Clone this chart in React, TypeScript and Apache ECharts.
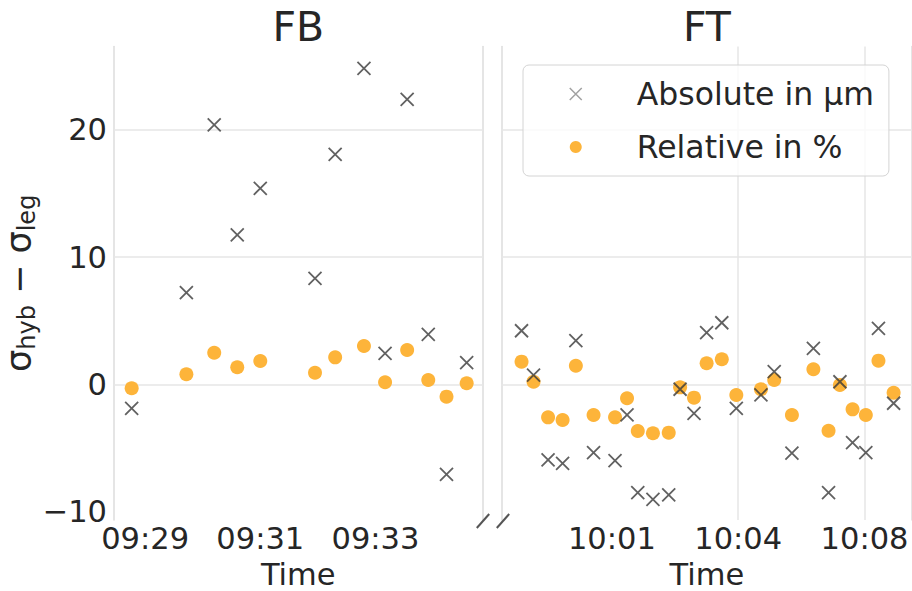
import React, { useEffect, useRef } from 'react';
import * as echarts from 'echarts';

// ---------------- data ----------------
const panelTitles = ['FB', 'FT'];
const seriesNames = ['Absolute in µm', 'Relative in %'];

const fbTimes = ['09:28:46', '09:29:43', '09:30:12', '09:30:36', '09:31:00', '09:31:57', '09:32:18', '09:32:48', '09:33:10', '09:33:33', '09:33:55', '09:34:14', '09:34:35'];
const fbAbsolute = [-1.89, 7.2, 20.39, 11.74, 15.41, 8.33, 18.08, 24.84, 2.44, 22.41, 3.92, -7.08, 1.7];
const fbRelative = [-0.31, 0.79, 2.48, 1.34, 1.83, 0.91, 2.12, 3.01, 0.16, 2.7, 0.34, -0.97, 0.08];

const ftTimes = ['09:58:57', '09:59:16', '09:59:39', '10:00:02', '10:00:23', '10:00:51', '10:01:25', '10:01:44', '10:02:01', '10:02:25', '10:02:50', '10:03:08', '10:03:30', '10:03:50', '10:04:14', '10:04:37', '10:05:16', '10:05:37', '10:06:05', '10:06:39', '10:07:03', '10:07:21', '10:07:41', '10:08:02', '10:08:22', '10:08:46'];
const ftAbsolute = [4.21, 0.73, -5.95, -6.21, 3.43, -5.38, -6.0, -2.41, -8.52, -9.04, -8.7, -0.39, -2.28, 4.06, 4.84, -1.89, -0.84, 0.99, -5.42, 2.83, -8.52, 0.2, -4.59, -5.38, 4.4, -1.49];
const ftRelative = [1.78, 0.2, -2.6, -2.81, 1.46, -2.41, -2.6, -1.1, -3.67, -3.85, -3.8, -0.24, -1.05, 1.65, 1.97, -0.84, -0.39, 0.34, -2.41, 1.18, -3.65, -0.06, -1.97, -2.41, 1.86, -0.66];

const fbTicks = ['09:29:00', '09:31:00', '09:33:00'];
const ftTicks = ['10:01:20', '10:04:40', '10:08:00'];
const ftVerticalGrid = ['10:04:40', '10:08:00'];
const fbRange = ['09:28:27.6', '09:34:51.5'];
const ftRange = ['09:58:25.6', '10:09:15.1'];
const yTicks = [-10, 0, 10, 20];
const yGrid = [0, 10, 20];
const yRange = [-10.67, 26.56];

// ---------------- helpers ----------------
const FONT = '"DejaVu Sans", "Liberation Sans", sans-serif';
const TEXT = '#262626';
const GRID = '#e6e6e6';
const SPINE = '#dcdcdc';
const ORANGE = '#FDB43A';
const CROSS = '#3a3a3a';
const CROSS_PATH = 'path://M0,0L10,10M10,0L0,10';

const toSec = (s: string) => {
  const p = s.split(':').map(Number);
  return p[0] * 3600 + p[1] * 60 + (p[2] || 0);
};
const pad = (n: number) => (n < 10 ? '0' + n : '' + n);
const fmtTime = (v: number) => {
  const h = Math.floor(v / 3600);
  const m = Math.floor((v - h * 3600) / 60);
  return pad(h) + ':' + pad(m);
};
const fmtNum = (v: number) => (v < 0 ? '\u2212' + Math.abs(v) : String(v));

export default function App() {
  const ref = useRef<HTMLDivElement>(null);

  useEffect(() => {
    if (!ref.current) return;
    const chart = echarts.init(ref.current, null, { renderer: 'svg' });

    const grids = [
      { left: 114, top: 46.5, width: 368.5, height: 473.5, outerBoundsMode: 'none', containLabel: false },
      { left: 501.7, top: 46.5, width: 410.3, height: 473.5, outerBoundsMode: 'none', containLabel: false },
    ];

    const yBase = (gridIndex: number, position: string) => ({
      type: 'value',
      gridIndex,
      position,
      min: yRange[0],
      max: yRange[1],
      axisLine: { show: true, onZero: false, lineStyle: { color: SPINE, width: 1.5 } },
      axisTick: { show: false },
      splitLine: { show: false },
      axisLabel: { show: false },
    });

    const xAxis = (gridIndex: number, range: string[], ticks: string[]) => ({
      type: 'value',
      gridIndex,
      min: toSec(range[0]),
      max: toSec(range[1]),
      axisLine: { show: false, onZero: false },
      axisTick: { show: false },
      splitLine: { show: false },
      axisLabel: {
        customValues: ticks.map(toSec),
        formatter: (v: number) => fmtTime(v),
        fontSize: 30.5,
        fontFamily: FONT,
        color: TEXT,
        margin: 3,
      },
      name: 'Time',
      nameLocation: 'middle',
      nameGap: 37,
      nameTextStyle: { fontSize: 30.5, fontFamily: FONT, color: TEXT },
    });

    const gridMarkLine = (extra: any[]) => ({
      silent: true,
      symbol: 'none',
      z: 1,
      label: { show: false },
      emphasis: { disabled: true },
      lineStyle: { color: GRID, width: 1.5, type: 'solid' },
      data: [...yGrid.map((v) => ({ yAxis: v })), ...extra],
    });

    const dotStyle = { color: ORANGE, opacity: 1 };
    const crossStyle = { color: 'transparent', borderColor: CROSS, borderWidth: 1.8 };

    const option: any = {
      animation: false,
      backgroundColor: '#ffffff',
      title: panelTitles.map((t, i) => ({
        text: t,
        left: grids[i].left + grids[i].width / 2,
        top: 6,
        textAlign: 'center',
        padding: 0,
        textStyle: { fontSize: 41, fontWeight: 'normal', fontFamily: FONT, color: TEXT },
      })),
      grid: grids,
      legend: {
        data: [
          {
            name: seriesNames[0],
            itemStyle: { color: 'transparent', borderColor: '#8a8a8a', borderWidth: 1.5 },
          },
          { name: seriesNames[1], itemStyle: { color: ORANGE } },
        ],
        orient: 'vertical',
        left: 523,
        top: 65,
        padding: [13, 15, 13, 46],
        itemWidth: 30,
        itemHeight: 12,
        itemGap: 21,
        backgroundColor: 'rgba(255,255,255,0.8)',
        borderColor: '#d4d4d4',
        borderWidth: 1,
        borderRadius: 6,
        textStyle: { fontSize: 31.5, fontFamily: FONT, color: TEXT, padding: [0, 0, 0, 41] },
      },
      xAxis: [xAxis(0, fbRange, fbTicks), xAxis(1, ftRange, ftTicks)],
      yAxis: [
        {
          ...yBase(0, 'left'),
          axisLabel: {
            show: true,
            customValues: yTicks,
            formatter: (v: number) => fmtNum(v),
            fontSize: 30.5,
            fontFamily: FONT,
            color: TEXT,
            margin: 7,
          },
          name: '{s|σ}{sub|hyb}{s| − σ}{sub|leg}',
          nameLocation: 'middle',
          nameGap: 50,
          nameRotate: 90,
          nameTextStyle: {
            rich: {
              s: { fontSize: 35, fontFamily: FONT, color: TEXT, lineHeight: 36 },
              sub: { fontSize: 24, fontFamily: FONT, color: TEXT, lineHeight: 24, padding: [16, 0, 0, 0] },
            },
          },
        },
        yBase(0, 'right'),
        yBase(1, 'left'),
        yBase(1, 'right'),
      ],
      series: [
        {
          name: seriesNames[1],
          type: 'scatter',
          xAxisIndex: 0,
          yAxisIndex: 0,
          symbol: 'circle',
          symbolSize: 14,
          z: 2,
          itemStyle: dotStyle,
          data: fbTimes.map((t, i) => [toSec(t), fbRelative[i]]),
          markLine: gridMarkLine([]),
        },
        {
          name: seriesNames[1],
          type: 'scatter',
          xAxisIndex: 1,
          yAxisIndex: 2,
          symbol: 'circle',
          symbolSize: 14,
          z: 2,
          itemStyle: dotStyle,
          data: ftTimes.map((t, i) => [toSec(t), ftRelative[i]]),
          markLine: gridMarkLine(ftVerticalGrid.map((t) => ({ xAxis: toSec(t) }))),
        },
        {
          name: seriesNames[0],
          type: 'scatter',
          xAxisIndex: 0,
          yAxisIndex: 0,
          symbol: CROSS_PATH,
          symbolSize: 13,
          z: 3,
          itemStyle: crossStyle,
          data: fbTimes.map((t, i) => [toSec(t), fbAbsolute[i]]),
        },
        {
          name: seriesNames[0],
          type: 'scatter',
          xAxisIndex: 1,
          yAxisIndex: 2,
          symbol: CROSS_PATH,
          symbolSize: 13,
          z: 3,
          itemStyle: crossStyle,
          data: ftTimes.map((t, i) => [toSec(t), ftAbsolute[i]]),
        },
      ],
      graphic: [483, 503].map((cx) => ({
        type: 'line',
        z: 10,
        shape: { x1: cx - 6.2, y1: 528, x2: cx + 6.2, y2: 514 },
        style: { stroke: '#555555', lineWidth: 2 },
        silent: true,
      })),
    };

    chart.setOption(option);
    return () => chart.dispose();
  }, []);

  return (
    <div
      ref={ref}
      style={{ position: 'fixed', left: 0, top: 0, width: 912, height: 591, background: '#fff' }}
    />
  );
}
